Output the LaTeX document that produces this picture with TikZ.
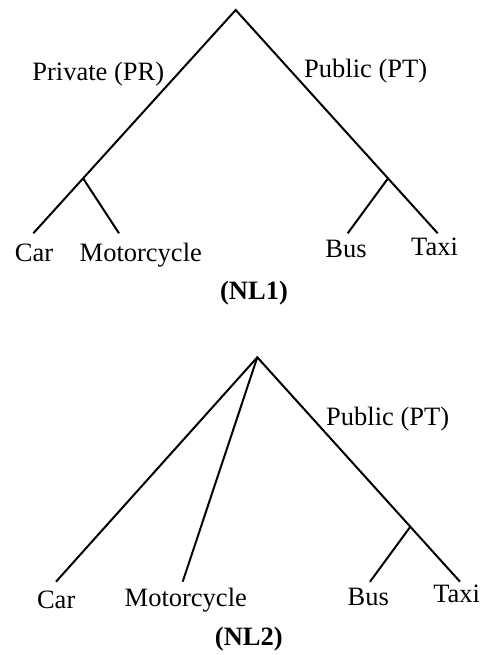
\documentclass[tikz,border=0pt]{standalone}
\usepackage{fontspec}
\setmainfont{Liberation Serif}
\usetikzlibrary{calc}

\begin{document}
\begin{tikzpicture}[x=1pt,y=-1pt,line width=2pt,
   lbl/.style={anchor=base,inner sep=0pt,font=\fontsize{26.5}{30}\selectfont},
   treetitle/.style={lbl,font=\fontsize{26.5}{30}\selectfont\bfseries}]
   \useasboundingbox (0,0) rectangle (487,655);
   % (NL1)
   \coordinate (r_1) at (235.7,10);
   \coordinate (car_1) at (33.3,233.3);
   \coordinate (taxi_1) at (437.7,233.3);
   \coordinate (pr_1) at ($(r_1)!0.754!(car_1)$);
   \coordinate (pt_1) at ($(r_1)!0.754!(taxi_1)$);
   \coordinate (moto_1) at (119,233.3);
   \coordinate (bus_1) at (347.7,233.3);
   \draw (car_1) -- (r_1) -- (taxi_1);
   \draw (pr_1) -- (moto_1);
   \draw (pt_1) -- (bus_1);
   \node[lbl] (lpr_1) at (98.3,80.5) {Private (PR)};
   \node[lbl] (lpt_1) at (365.7,77.5) {Public (PT)};
   \node[lbl] (lcar_1) at (34,261.5) {Car};
   \node[lbl] (lmoto_1) at (140.8,261.5) {Motorcycle};
   \node[lbl] (lbus_1) at (346,257.7) {Bus};
   \node[lbl] (ltaxi_1) at (434.5,255) {Taxi};
   \node[treetitle] (nl_1) at (254,299.5) {(NL1)};
   % (NL2)
   \coordinate (r_2) at (257.3,357.3);
   \coordinate (car_2) at (56,581.7);
   \coordinate (moto_2) at (182.7,581.7);
   \coordinate (taxi_2) at (460,581.7);
   \coordinate (pt_2) at ($(r_2)!0.755!(taxi_2)$);
   \coordinate (bus_2) at (370,581.7);
   \draw (car_2) -- (r_2) -- (taxi_2);
   \draw (r_2) -- (moto_2);
   \draw (pt_2) -- (bus_2);
   \node[lbl] (lpt_2) at (387.7,425) {Public (PT)};
   \node[lbl] (lcar_2) at (56.2,608.3) {Car};
   \node[lbl] (lmoto_2) at (185.8,606) {Motorcycle};
   \node[lbl] (lbus_2) at (368.3,605) {Bus};
   \node[lbl] (ltaxi_2) at (456.7,602.7) {Taxi};
   \node[treetitle] (nl_2) at (248.8,645) {(NL2)};
\end{tikzpicture}
\end{document}
